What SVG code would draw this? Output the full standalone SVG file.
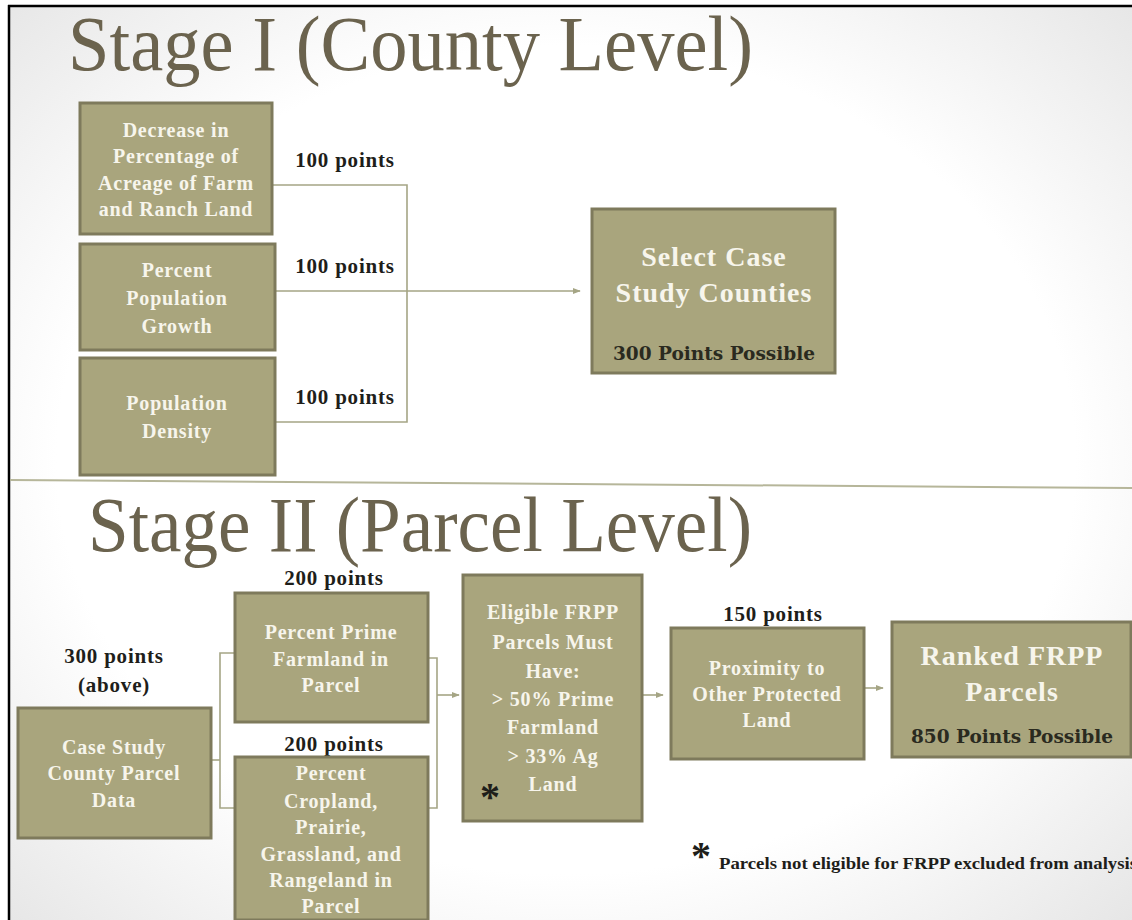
<svg xmlns="http://www.w3.org/2000/svg" width="1132" height="920" viewBox="0 0 1132 920">
<defs>
<radialGradient id="bg" cx="50%" cy="50%" r="75%">
<stop offset="0" stop-color="#ffffff"/>
<stop offset="0.6" stop-color="#ffffff"/>
<stop offset="1" stop-color="#e2e2e2"/>
</radialGradient>
<marker id="arr" viewBox="0 0 10 10" refX="9" refY="5" markerWidth="8" markerHeight="8" markerUnits="userSpaceOnUse" orient="auto">
<path d="M0,1 L10,5 L0,9 z" fill="#a5a585"/>
</marker>
<style>
.box{fill:#a9a57d;stroke:#7e7a5c;stroke-width:3}
.bt{font-family:"Liberation Serif","Times New Roman",serif;font-weight:bold;font-size:20px;fill:#f7f5ec;text-anchor:middle;letter-spacing:0.8px}
.bt2{font-family:"Liberation Serif","Times New Roman",serif;font-weight:bold;font-size:28px;fill:#f7f5ec;text-anchor:middle;letter-spacing:1px}
.pp{font-family:"DejaVu Serif",serif;font-weight:bold;font-size:18.5px;fill:#2a2a1f;text-anchor:middle}
.lbl{font-family:"Liberation Serif","Times New Roman",serif;font-weight:bold;font-size:21px;fill:#1e1e1a;text-anchor:middle;letter-spacing:0.8px}
.title{font-family:"Liberation Serif","Times New Roman",serif;font-size:78px;fill:#6b634e}
.ast{font-family:"Liberation Serif","Times New Roman",serif;font-weight:bold;font-size:40px;fill:#1e1e1a;text-anchor:middle}
.con{fill:none;stroke:#a5a585;stroke-width:1.6}
</style>
</defs>
<rect x="0" y="0" width="1132" height="920" fill="url(#bg)"/>
<rect x="0" y="0" width="1132" height="5" fill="#ffffff"/>
<rect x="0" y="0" width="8" height="920" fill="#ffffff"/>
<line x1="8" y1="6" x2="1132" y2="6" stroke="#000" stroke-width="2.5"/>
<line x1="9" y1="5" x2="9" y2="920" stroke="#000" stroke-width="2.5"/>
<line x1="10" y1="480" x2="1132" y2="488" stroke="#b6b69a" stroke-width="2"/>

<text class="title" x="68" y="70" textLength="685" lengthAdjust="spacingAndGlyphs">Stage I (County Level)</text>
<text class="title" x="88" y="551" textLength="664" lengthAdjust="spacingAndGlyphs">Stage II (Parcel Level)</text>

<g id="connectors">
<polyline class="con" points="272,185 407,185 407,422 275,422"/>
<line class="con" x1="275" y1="291" x2="580" y2="291" marker-end="url(#arr)"/>
<polyline class="con" points="235,653 220,653 220,808 235,808"/>
<line class="con" x1="211" y1="760" x2="220" y2="760"/>
<polyline class="con" points="428,658 437,658 437,808 428,808"/>
<line class="con" x1="437" y1="695" x2="459" y2="695" marker-end="url(#arr)"/>
<line class="con" x1="643" y1="695" x2="663" y2="695" marker-end="url(#arr)"/>
<line class="con" x1="864" y1="688" x2="883" y2="688" marker-end="url(#arr)"/>
</g>

<g id="labels">
<text class="lbl" x="345" y="167">100 points</text>
<text class="lbl" x="345" y="273">100 points</text>
<text class="lbl" x="345" y="404">100 points</text>
<text class="lbl" x="114" y="663">300 points</text>
<text class="lbl" x="114" y="692">(above)</text>
<text class="lbl" x="334" y="585">200 points</text>
<text class="lbl" x="334" y="751">200 points</text>
<text class="lbl" x="773" y="621">150 points</text>
</g>

<g id="n-decrease">
<rect class="box" x="80" y="103" width="192" height="131"/>
<text class="bt" x="176" y="137">Decrease in</text>
<text class="bt" x="176" y="163">Percentage of</text>
<text class="bt" x="176" y="190">Acreage of Farm</text>
<text class="bt" x="176" y="216">and Ranch Land</text>
</g>
<g id="n-popgrowth">
<rect class="box" x="80" y="244" width="195" height="106"/>
<text class="bt" x="177" y="277">Percent</text>
<text class="bt" x="177" y="305">Population</text>
<text class="bt" x="177" y="333">Growth</text>
</g>
<g id="n-popdensity">
<rect class="box" x="80" y="358" width="195" height="117"/>
<text class="bt" x="177" y="410">Population</text>
<text class="bt" x="177" y="438">Density</text>
</g>
<g id="n-select">
<rect class="box" x="592" y="209" width="243" height="164"/>
<text class="bt2" x="714" y="266">Select Case</text>
<text class="bt2" x="714" y="302">Study Counties</text>
<text class="pp" x="714" y="360">300 Points Possible</text>
</g>

<g id="n-casestudy">
<rect class="box" x="18" y="708" width="193" height="130"/>
<text class="bt" x="114" y="754">Case Study</text>
<text class="bt" x="114" y="780">County Parcel</text>
<text class="bt" x="114" y="807">Data</text>
</g>
<g id="n-prime">
<rect class="box" x="235" y="593" width="193" height="129"/>
<text class="bt" x="331" y="639">Percent Prime</text>
<text class="bt" x="331" y="666">Farmland in</text>
<text class="bt" x="331" y="692">Parcel</text>
</g>
<g id="n-cropland">
<rect class="box" x="235" y="757" width="193" height="163"/>
<text class="bt" x="331" y="780">Percent</text>
<text class="bt" x="331" y="808">Cropland,</text>
<text class="bt" x="331" y="834">Prairie,</text>
<text class="bt" x="331" y="861">Grassland, and</text>
<text class="bt" x="331" y="887">Rangeland in</text>
<text class="bt" x="331" y="913">Parcel</text>
</g>
<g id="n-eligible">
<rect class="box" x="463" y="575" width="179" height="246"/>
<text class="bt" x="553" y="619">Eligible FRPP</text>
<text class="bt" x="553" y="649">Parcels Must</text>
<text class="bt" x="553" y="678">Have:</text>
<text class="bt" x="553" y="706">&gt; 50% Prime</text>
<text class="bt" x="553" y="734">Farmland</text>
<text class="bt" x="553" y="763">&gt; 33% Ag</text>
<text class="bt" x="553" y="791">Land</text>
<text class="ast" x="490" y="810">*</text>
</g>
<g id="n-proximity">
<rect class="box" x="671" y="628" width="193" height="131"/>
<text class="bt" x="767" y="675">Proximity to</text>
<text class="bt" x="767" y="701">Other Protected</text>
<text class="bt" x="767" y="727">Land</text>
</g>
<g id="n-ranked">
<rect class="box" x="892" y="622" width="239" height="135"/>
<text class="bt2" x="1012" y="665">Ranked FRPP</text>
<text class="bt2" x="1012" y="701">Parcels</text>
<text class="pp" x="1012" y="743">850 Points Possible</text>
</g>

<g id="footnote">
<text class="ast" x="701" y="869">*</text>
<text x="719" y="869" font-family="Liberation Serif, Times New Roman, serif" font-weight="bold" font-size="16" fill="#1e1e1a" textLength="418" lengthAdjust="spacingAndGlyphs">Parcels not eligible for FRPP excluded from analysis</text>
</g>
</svg>
